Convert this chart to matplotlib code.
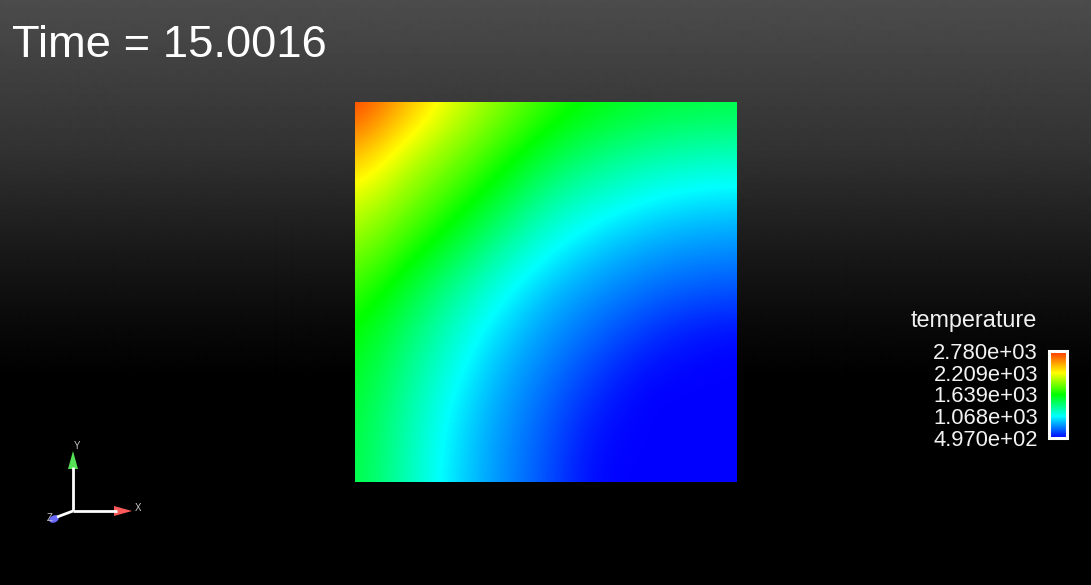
import numpy as np
import matplotlib
matplotlib.use("Agg")
import matplotlib.pyplot as plt
from matplotlib.colors import LinearSegmentedColormap
from matplotlib.patches import Polygon, Ellipse

# ---------------- data ----------------
title_text = "Time = 15.0016"
field_name = "temperature"
t_min, t_max = 497.0, 2780.0
tick_values = [2780.0, 2209.25, 1638.5, 1067.75, 497.0]
tick_labels = ["2.780e+03", "2.209e+03", "1.639e+03", "1.068e+03", "4.970e+02"]

# node positions (fraction of square side), x left->right, y top->bottom
node_x = [0.0, 0.125, 0.25, 0.375, 0.5, 0.625, 0.75, 0.875, 1.0]
node_y = [0.0, 0.125, 0.25, 0.375, 0.5, 0.625, 0.75, 0.875, 1.0]
# temperature at nodes, rows = node_y (top to bottom), cols = node_x
temperature = [
    [2780, 2456, 2161, 1963, 1766, 1634, 1563, 1518, 1502],
    [2456, 2161, 1963, 1766, 1550, 1408, 1323, 1273, 1255],
    [2161, 1963, 1766, 1550, 1307, 1184, 1088, 1029, 1011],
    [1963, 1766, 1550, 1305, 1107,  972,  890,  846,  830],
    [1766, 1550, 1307, 1107,  931,  830,  750,  698,  680],
    [1634, 1408, 1184,  972,  830,  716,  611,  531,  504],
    [1563, 1323, 1088,  890,  750,  611,  497,  497,  497],
    [1518, 1273, 1029,  846,  698,  531,  497,  497,  497],
    [1502, 1255, 1011,  830,  680,  504,  497,  497,  497],
]

# ---------------- figure ----------------
W, H = 1091, 585
fig = plt.figure(figsize=(W / 100, H / 100), dpi=100)
FAM = ["Liberation Sans", "DejaVu Sans"]

# background gradient (style)
bg = fig.add_axes([0, 0, 1, 1])
rows = np.arange(H)
gray = np.interp(rows, [0, 150, 250, 330, 380, H], [76, 50, 25, 8, 0, 0]) / 255.0
grad = np.repeat(gray[:, None], 2, axis=1)
bg.imshow(grad, cmap="gray", vmin=0, vmax=1, aspect="auto",
          extent=[0, W, H, 0], interpolation="bilinear")
bg.set_xlim(0, W)
bg.set_ylim(H, 0)
bg.axis("off")

# colormap (rainbow blue -> cyan -> green -> yellow -> red)
cmap = LinearSegmentedColormap.from_list(
    "rainbow_pv",
    [(0.0, (0, 0, 1)), (0.25, (0, 1, 1)), (0.5, (0, 1, 0)),
     (0.75, (1, 1, 0)), (1.0, (1, 0.18, 0))], N=512)

# field square
ax = fig.add_axes([355 / W, (H - 482) / H, 381 / W, 380 / H])
data = np.array(temperature, dtype=float)
hx = (node_x[1] - node_x[0]) / 2
hy = (node_y[1] - node_y[0]) / 2
ax.imshow(data, cmap=cmap, vmin=t_min, vmax=t_max, origin="upper",
          extent=[node_x[0] - hx, node_x[-1] + hx, node_y[-1] + hy, node_y[0] - hy],
          interpolation="bicubic", interpolation_stage="data", aspect="auto")
ax.set_xlim(node_x[0], node_x[-1])
ax.set_ylim(node_y[-1], node_y[0])
ax.axis("off")

# title
fig.text(12 / W, 1 - 57 / H, title_text, color="white", fontsize=32.7,
         family=FAM, ha="left", va="baseline")

# scalar bar
cax = fig.add_axes([1049 / W, (H - 438) / H, 18 / W, 87 / H])
sm = matplotlib.cm.ScalarMappable(cmap=cmap, norm=plt.Normalize(t_min, t_max))
cb = fig.colorbar(sm, cax=cax, ticks=tick_values)
cb.ax.yaxis.set_ticks_position("left")
cb.ax.set_yticklabels(tick_labels)
cb.ax.tick_params(length=0, pad=8, labelsize=15.8, labelcolor="#f2f2f2")
for lab in cb.ax.get_yticklabels():
    lab.set_family(FAM)
cb.outline.set_edgecolor("white")
cb.outline.set_linewidth(2.2)
fig.text(1037 / W, 1 - 327 / H, field_name, color="#f2f2f2", fontsize=16.8,
         family=FAM, ha="right", va="baseline")

# orientation triad (decoration, pixel coords)
ox, oy = 73, 511
bg.plot([ox, 117], [oy, oy], color="white", lw=2, solid_capstyle="butt")
bg.plot([ox, ox], [oy, 467], color="white", lw=2, solid_capstyle="butt")
bg.plot([ox, 57], [oy, 517], color="white", lw=2, solid_capstyle="butt")
bg.add_patch(Polygon([[114, 506], [132, 511], [114, 516]], closed=True,
                     facecolor="#ff5a5a", edgecolor="none"))
bg.add_patch(Polygon([[68, 469], [73, 451], [78, 469]], closed=True,
                     facecolor="#55e055", edgecolor="none"))
bg.add_patch(Ellipse((54, 519), 10, 7, angle=-25, facecolor="#6a6aff", edgecolor="none"))
for tx, ty, s in [(77, 446, "Y"), (138, 508, "X"), (50, 518, "Z")]:
    bg.text(tx, ty, s, color="#c8c8c8", fontsize=7, ha="center", va="center",
            family=FAM, zorder=1)

fig.savefig("out.png", dpi=100, facecolor="black")
